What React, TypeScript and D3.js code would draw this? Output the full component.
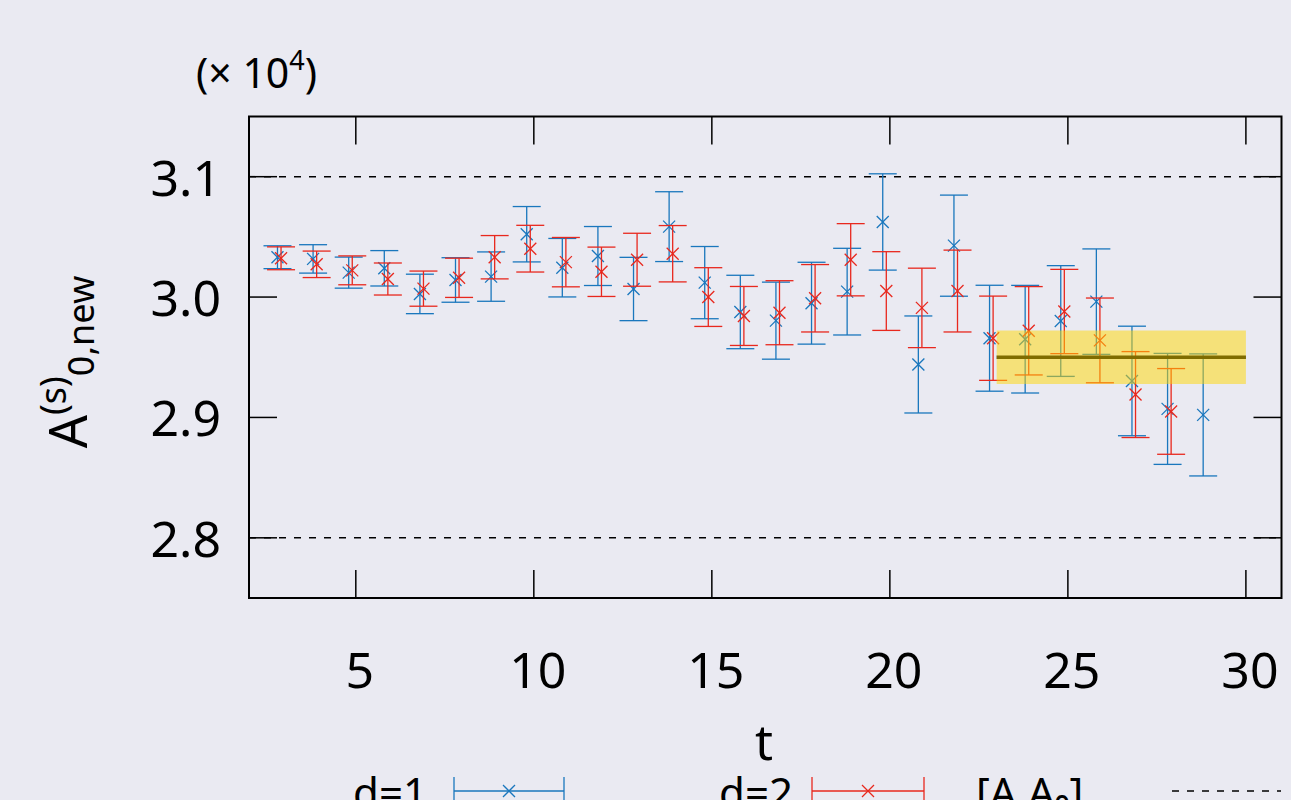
import React from "react";
import * as d3 from "d3";

// Effective amplitude A^(s)_{0,new} (in units of 10^4) versus time slice t
const tD1 = [3, 4, 5, 6, 7, 8, 9, 10, 11, 12, 13, 14, 15, 16, 17, 18, 19, 20, 21, 22, 23, 24, 25, 26, 27, 28, 29];
const meanD1 = [
  3.0331, 3.0317, 3.0203, 3.0239, 3.0026, 3.0142, 3.017, 3.0522, 3.0244, 3.0341,
  3.0067, 3.0585, 3.012, 2.9876, 2.9804, 2.9949, 3.0045, 3.0624, 2.944, 3.0427,
  2.9658, 2.965, 2.9801, 2.9962, 2.9303, 2.9071, 2.9021,
];
const errD1 = [
  0.0095, 0.0118, 0.0129, 0.0147, 0.0164, 0.0185, 0.0205, 0.023, 0.0243, 0.0245,
  0.0263, 0.029, 0.03, 0.0305, 0.032, 0.034, 0.036, 0.04, 0.0403, 0.042,
  0.044, 0.0447, 0.046, 0.0438, 0.0455, 0.0461, 0.0507,
];

const tD2 = [3, 4, 5, 6, 7, 8, 9, 10, 11, 12, 13, 14, 15, 16, 17, 18, 19, 20, 21, 22, 23, 24, 25, 26, 27, 28];
const meanD2 = [
  3.0322, 3.0272, 3.0222, 3.015, 3.007, 3.016, 3.0331, 3.0402, 3.029, 3.021,
  3.031, 3.036, 3.0, 2.9843, 2.987, 2.999, 3.031, 3.005, 2.991, 3.005,
  2.9658, 2.972, 2.988, 2.964, 2.919, 2.905,
];
const errD2 = [
  0.0095, 0.011, 0.012, 0.0133, 0.0146, 0.0163, 0.018, 0.0194, 0.0205, 0.0205,
  0.022, 0.0234, 0.0244, 0.0245, 0.0266, 0.028, 0.03, 0.0327, 0.033, 0.034,
  0.035, 0.0367, 0.035, 0.0352, 0.0357, 0.0356,
];

// Constant fit over the plateau window
const fitWindow = [23, 30];
const fitValue = 2.95;
const fitError = 0.0222;

// Bounds drawn as dashed reference lines
const boundValues = [3.1, 2.8];

const xTicks = [5, 10, 15, 20, 25, 30];
const yTicks = [2.8, 2.9, 3.0, 3.1];

const BLUE = "#1a77bd";
const RED = "#e8281e";
const BG = "#eaeaf2";
const FONT = "'Noto Sans', 'DejaVu Sans', sans-serif";

type Series = { t: number[]; mean: number[]; err: number[]; color: string; shift: number };

export default function App() {
  const W = 1291;
  const H = 800;
  const left = 249;
  const right = 1281.5;
  const top = 116.5;
  const bottom = 598;

  const x = d3.scaleLinear().domain([2, 31]).range([left, right]);
  const y = d3.scaleLinear().domain([2.75, 3.15]).range([bottom, top]);

  const cap = 14;
  const mk = 6;
  const tickLen = 28;

  const series: Series[] = [
    { t: tD1, mean: meanD1, err: errD1, color: BLUE, shift: -0.2 },
    { t: tD2, mean: meanD2, err: errD2, color: RED, shift: -0.1 },
  ];

  const renderBars = (s: Series, si: number) =>
    s.t.map((t, i) => {
      const cx = x(t + s.shift);
      const cy = y(s.mean[i]);
      const y0 = y(s.mean[i] - s.err[i]);
      const y1 = y(s.mean[i] + s.err[i]);
      return (
        <g key={`${si}-${i}`} stroke={s.color} strokeWidth={1.3} fill="none">
          <line x1={cx} x2={cx} y1={y0} y2={y1} />
          <line x1={cx - cap} x2={cx + cap} y1={y0} y2={y0} />
          <line x1={cx - cap} x2={cx + cap} y1={y1} y2={y1} />
          <line x1={cx - mk} x2={cx + mk} y1={cy - mk} y2={cy + mk} />
          <line x1={cx - mk} x2={cx + mk} y1={cy + mk} y2={cy - mk} />
        </g>
      );
    });

  const legendY = 791;
  const legendFont = 42;

  const legendBar = (x0: number, x1: number, color: string) => {
    const xm = (x0 + x1) / 2;
    return (
      <g stroke={color} strokeWidth={1.3} fill="none">
        <line x1={x0} x2={x1} y1={legendY} y2={legendY} />
        <line x1={x0} x2={x0} y1={legendY - cap} y2={legendY + cap} />
        <line x1={x1} x2={x1} y1={legendY - cap} y2={legendY + cap} />
        <line x1={xm - mk} x2={xm + mk} y1={legendY - mk} y2={legendY + mk} />
        <line x1={xm - mk} x2={xm + mk} y1={legendY + mk} y2={legendY - mk} />
      </g>
    );
  };

  return (
    <div style={{ position: "fixed", left: 0, top: 0, width: W, height: H }}>
      <svg width={W} height={H} style={{ display: "block" }} fontFamily={FONT}>
        <rect x={0} y={0} width={W} height={H} fill={BG} />

        {/* dashed bound lines */}
        {boundValues.map((v) => (
          <line
            key={v}
            x1={left}
            x2={right}
            y1={y(v)}
            y2={y(v)}
            stroke="#000"
            strokeWidth={1.5}
            strokeDasharray="7,8"
          />
        ))}

        {series.map((s, si) => renderBars(s, si))}

        {/* fit line and error band */}
        <line
          x1={x(fitWindow[0])}
          x2={x(fitWindow[1])}
          y1={y(fitValue)}
          y2={y(fitValue)}
          stroke="#000"
          strokeWidth={3.5}
        />
        <rect
          x={x(fitWindow[0])}
          width={x(fitWindow[1]) - x(fitWindow[0])}
          y={y(fitValue + fitError)}
          height={y(fitValue - fitError) - y(fitValue + fitError)}
          fill="#ffd700"
          fillOpacity={0.5}
        />

        {/* ticks */}
        <g stroke="#000" strokeWidth={1.5}>
          {xTicks.map((t) => (
            <g key={`xt${t}`}>
              <line x1={x(t)} x2={x(t)} y1={bottom} y2={bottom - tickLen} />
              <line x1={x(t)} x2={x(t)} y1={top} y2={top + tickLen} />
            </g>
          ))}
          {yTicks.map((v) => (
            <g key={`yt${v}`}>
              <line x1={left} x2={left + tickLen} y1={y(v)} y2={y(v)} />
              <line x1={right} x2={right - tickLen} y1={y(v)} y2={y(v)} />
            </g>
          ))}
        </g>

        {/* frame */}
        <rect
          x={left}
          y={top}
          width={right - left}
          height={bottom - top}
          fill="none"
          stroke="#000"
          strokeWidth={2}
        />

        {/* tick labels */}
        <g fontSize={50} fill="#000">
          {xTicks.map((t) => (
            <text key={`xl${t}`} x={x(t) + 4} y={688} textAnchor="middle">
              {t}
            </text>
          ))}
          {yTicks.map((v) => (
            <text key={`yl${v}`} x={221} y={y(v) + 19} textAnchor="end">
              {v.toFixed(1)}
            </text>
          ))}
        </g>

        {/* scale factor */}
        <text x={196} y={88} fontSize={41} fill="#000">
          (× 10
          <tspan fontSize={27} dy={-18}>4</tspan>
          <tspan dy={18}>)</tspan>
        </text>

        {/* axis titles */}
        <text x={764} y={760} fontSize={50} textAnchor="middle" fill="#000">
          t
        </text>
        <text
          transform={`translate(87, 362) rotate(-90)`}
          textAnchor="middle"
          fontSize={52}
          fill="#000"
        >
          A
          <tspan fontSize={36} dy={-21}>(s)</tspan>
          <tspan fontSize={36} dy={28}>0,new</tspan>
        </text>

        {/* legend */}
        <g fontSize={legendFont} fill="#000">
          <text x={427} y={808} textAnchor="end">d=1</text>
          {legendBar(454, 564, BLUE)}
          <text x={793} y={808} textAnchor="end">d=2</text>
          {legendBar(812, 924, RED)}
          <text x={976} y={808}>[A,A₀]</text>
          <line
            x1={1172}
            x2={1281}
            y1={legendY}
            y2={legendY}
            stroke="#000"
            strokeWidth={1.3}
            strokeDasharray="7,8"
          />
        </g>
      </svg>
    </div>
  );
}
